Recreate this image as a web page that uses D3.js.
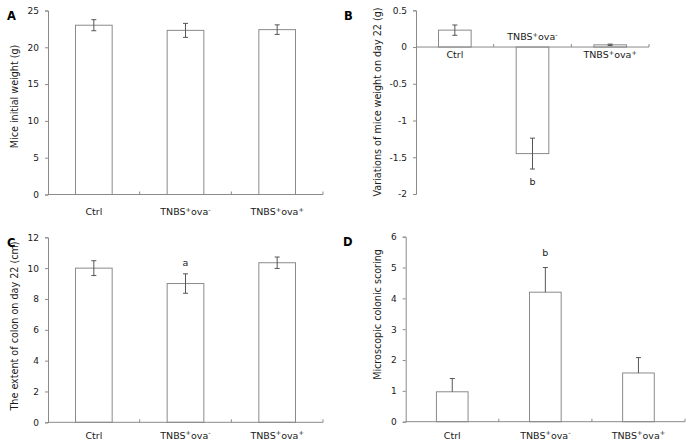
<!DOCTYPE html>
<html><head><meta charset="utf-8">
<script src="https://cdn.jsdelivr.net/npm/d3@7"></script>
<style>body{margin:0;background:#fff}svg{display:block}</style>
</head><body>
<svg id="c" width="689" height="444"></svg>
<script>
const categories = ["Ctrl", "TNBS+ova-", "TNBS+ova+"];
const initialWeight = [23.0, 22.3, 22.4];
const initialWeightErr = [0.75, 0.95, 0.65];
const weightVariation = [0.23, -1.45, 0.03];
const weightVariationErr = [0.07, 0.21, 0.01];
const colonLength = [10.0, 9.0, 10.35];
const colonLengthErr = [0.48, 0.63, 0.37];
const colonScore = [0.97, 4.2, 1.58];
const colonScoreErr = [0.43, 0.8, 0.5];
const ticksA = [0, 5, 10, 15, 20, 25];
const ticksB = [0.5, 0, -0.5, -1, -1.5, -2];
const ticksC = [0, 2, 4, 6, 8, 10, 12];
const ticksD = [0, 1, 2, 3, 4, 5, 6];
const titleA = "Mice initial weight (g)";
const titleB = "Variations of mice weight on day 22 (g)";
const titleC = "The extent of colon on day 22 (cm)";
const titleD = "Microscopic colonic scoring";
const sigB = ["", "b", ""];
const sigC = ["", "a", ""];
const sigD = ["", "b", ""];

const svg = d3.select("#c");
const axisColor = "#8a8a8a";
const textColor = "#1a1a1a";
const font = "DejaVu Sans";

function catLabel(g, name, x, y) {
  const t = g.append("text").attr("x", x).attr("y", y).attr("text-anchor", "middle")
    .attr("font-family", font).attr("font-size", 9.5).attr("fill", textColor);
  const m = name.match(/^TNBS([+-])ova([+-])$/);
  if (!m) { t.text(name); return; }
  t.append("tspan").text("TNBS");
  t.append("tspan").attr("dy", -3.5).attr("font-size", 6.5).text(m[1]);
  t.append("tspan").attr("dy", 3.5).text("ova");
  t.append("tspan").attr("dy", -3.5).attr("font-size", 6.5).text(m[2]);
}

function panel(o) {
  const g = svg.append("g");
  const x = d3.scaleBand().domain(categories).range([o.x0, o.x1]).padding(0);
  const y = d3.scaleLinear().domain(o.domain).range([o.yb, o.yt]);
  const zeroY = y(0);

  const ya = g.append("g").attr("transform", `translate(${o.x0},0)`)
    .call(d3.axisLeft(y).tickValues(o.ticks).tickSize(3).tickPadding(6).tickFormat(d => String(d)));
  ya.select(".domain").attr("stroke", axisColor);
  ya.selectAll(".tick line").attr("stroke", axisColor);
  ya.selectAll(".tick text").attr("font-family", font).attr("font-size", 9).attr("fill", textColor);

  const bw = x.bandwidth() * o.barFrac;
  categories.forEach((c, i) => {
    const cx = x(c) + x.bandwidth() / 2;
    const v = o.values[i];
    g.append("rect").attr("x", cx - bw / 2).attr("y", Math.min(y(v), zeroY))
      .attr("width", bw).attr("height", Math.abs(y(v) - zeroY))
      .attr("fill", "#fff").attr("stroke", axisColor).attr("stroke-width", 1);
    const e = o.errs[i];
    const top = y(v + e), bot = o.upperOnly ? y(v) : y(v - e);
    g.append("line").attr("x1", cx).attr("x2", cx).attr("y1", top).attr("y2", bot)
      .attr("stroke", "#555").attr("stroke-width", 1);
    g.append("line").attr("x1", cx - 2.5).attr("x2", cx + 2.5).attr("y1", top).attr("y2", top)
      .attr("stroke", "#555");
    if (!o.upperOnly)
      g.append("line").attr("x1", cx - 2.5).attr("x2", cx + 2.5).attr("y1", bot).attr("y2", bot)
        .attr("stroke", "#555");
    if (o.sig[i]) {
      const sy = v < 0 ? y(v - e) + o.sigOff : y(v + e) - o.sigOff;
      g.append("text").attr("x", cx).attr("y", sy).attr("text-anchor", "middle")
        .attr("font-family", font).attr("font-size", 9.5).attr("fill", textColor).text(o.sig[i]);
    }
  });

  g.append("line").attr("x1", o.x0).attr("x2", o.x1).attr("y1", zeroY).attr("y2", zeroY)
    .attr("stroke", axisColor);
  categories.forEach(c => {
    const tx = x(c) + x.bandwidth();
    g.append("line").attr("x1", tx).attr("x2", tx).attr("y1", zeroY).attr("y2", zeroY - 3)
      .attr("stroke", axisColor);
  });
  categories.forEach((c, i) => {
    const cx = x(c) + x.bandwidth() / 2;
    const ly = o.labelY ? o.labelY[i] : zeroY + o.labelOff;
    catLabel(g, c, cx, ly);
  });

  g.append("text").attr("transform", `translate(${o.titleX},${o.titleY}) rotate(-90)`)
    .attr("text-anchor", "middle").attr("font-family", font).attr("font-size", 9.6)
    .attr("fill", textColor).text(o.title);

  g.append("text").attr("x", o.px).attr("y", o.py).attr("font-family", font)
    .attr("font-weight", "bold").attr("font-size", 11.5).attr("fill", "#000").text(o.letter);
}

panel({x0: 48, x1: 323, yt: 10.5, yb: 194.5, domain: [0, 25], ticks: ticksA,
  values: initialWeight, errs: initialWeightErr, barFrac: 0.4, sig: ["", "", ""], sigOff: 0,
  labelOff: 20.5, title: titleA, titleX: 18, titleY: 96.5, letter: "A", px: 7, py: 19.5});
panel({x0: 416, x1: 649, yt: 10.3, yb: 194, domain: [-2, 0.5], ticks: ticksB,
  values: weightVariation, errs: weightVariationErr, barFrac: 0.42, sig: sigB, sigOff: 16,
  labelY: [58.3, 40, 58.3], title: titleB, titleX: 381, titleY: 102, letter: "B", px: 344, py: 19.5});
panel({x0: 48, x1: 323, yt: 237.3, yb: 422.3, domain: [0, 12], ticks: ticksC,
  values: colonLength, errs: colonLengthErr, barFrac: 0.4, sig: sigC, sigOff: 8,
  labelOff: 16.4, title: titleC, titleX: 18, titleY: 326, letter: "C", px: 7, py: 247});
panel({x0: 405.7, x1: 685, yt: 236.7, yb: 421.7, domain: [0, 6], ticks: ticksD,
  values: colonScore, errs: colonScoreErr, barFrac: 0.34, sig: sigD, sigOff: 12, upperOnly: true,
  labelOff: 17, title: titleD, titleX: 381, titleY: 314.5, letter: "D", px: 343, py: 246});
</script>
</body></html>
